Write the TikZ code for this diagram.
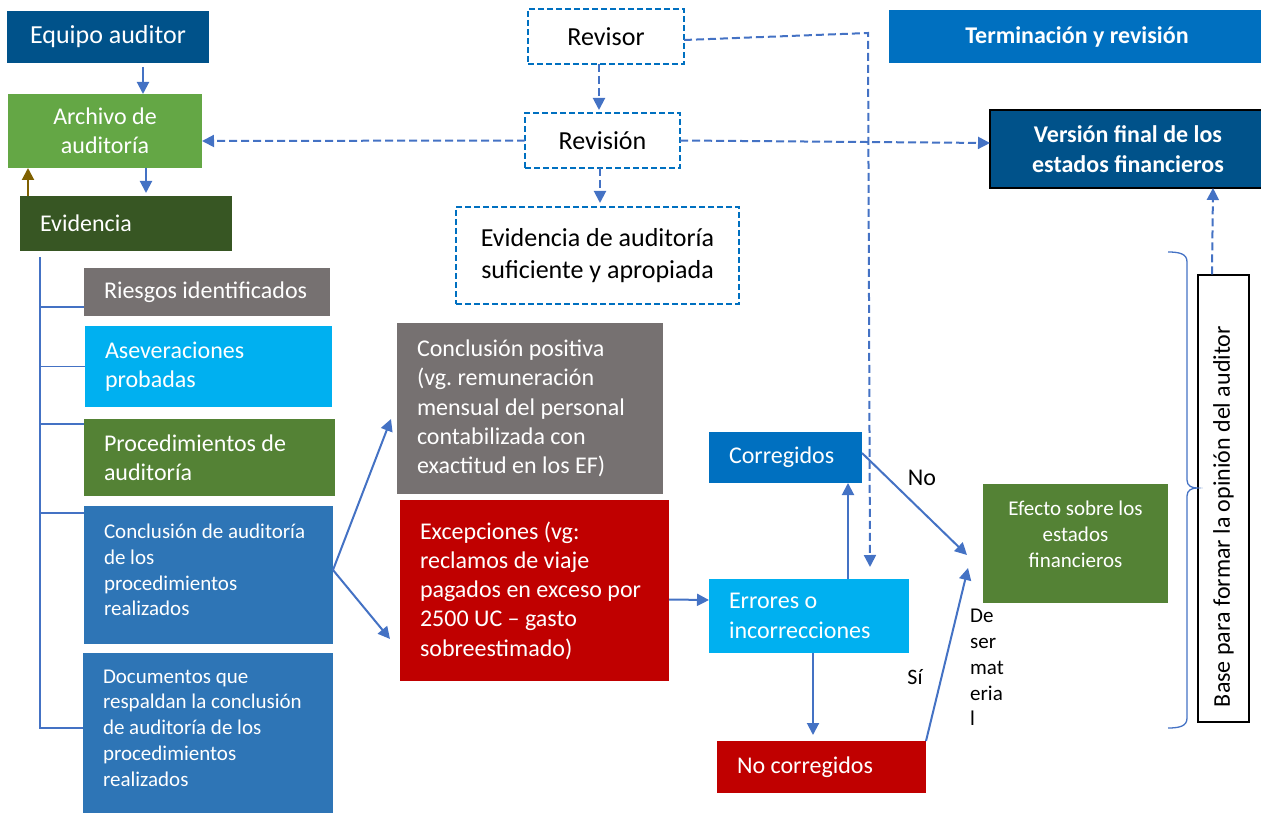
\documentclass[tikz,border=0pt]{standalone}
\usepackage{fontspec}
\setmainfont{Carlito}
\usetikzlibrary{arrows.meta}
\frenchspacing

\definecolor{navy}{RGB}{0,82,138}
\definecolor{leaf}{RGB}{100,167,69}
\definecolor{forest}{RGB}{55,86,35}
\definecolor{moss}{RGB}{84,130,53}
\definecolor{slate}{RGB}{118,113,113}
\definecolor{sky}{RGB}{0,176,240}
\definecolor{steel}{RGB}{46,117,182}
\definecolor{azure}{RGB}{0,112,192}
\definecolor{crimson}{RGB}{192,0,0}
\definecolor{link}{RGB}{68,114,196}
\definecolor{umber}{RGB}{127,96,0}

\begin{document}
\begin{tikzpicture}[x=1pt,y=-1pt,
  txtxl/.style={font=\fontsize{26}{31.7}\selectfont},
  txtl/.style={font=\fontsize{24}{29.3}\selectfont},
  txtm/.style={font=\fontsize{22}{27.5}\selectfont},
  txts/.style={font=\fontsize{21}{25.8}\selectfont},
  txtb/.style={font=\fontsize{24}{29.5}\selectfont\bfseries},
  blk/.style={anchor=north west, inner ysep=0pt, outer sep=0pt, text=white},
  lbox/.style={blk, inner xsep=20pt, align=flush left},
  cbox/.style={blk, inner xsep=0pt, align=center},
  dbox/.style={cbox, text=black, fill=white, draw=azure, line width=2.2pt,
               dash pattern=on 6pt off 3pt},
  conn/.style={draw=link, line width=2pt, -{Triangle[length=12pt,width=12pt]}},
  dconn/.style={conn, dash pattern=on 8pt off 4pt},
  tree/.style={draw=link, line width=1.3pt},
]
\useasboundingbox (0,0) rectangle (1261,813);
\clip (0,0) rectangle (1261,813);

% left column
\node[cbox, txtxl, fill=navy, minimum width=202pt, minimum height=52pt] (equipo) at (7,11) {Equipo auditor};
\node[cbox, txtl, fill=leaf, minimum width=194pt, minimum height=74pt] (archivo) at (8,94) {Archivo de\\auditoría};
\node[lbox, txtl, fill=forest, text width=172pt, minimum height=55pt] (evidencia) at (20,196) {Evidencia};

\node[lbox, txtl, fill=slate, text width=206pt, minimum height=48pt] (riesgos) at (84,268) {Riesgos identificados};
\node[lbox, txtl, fill=sky, text width=207pt, minimum height=81pt] (aseveraciones) at (85,326) {Aseveraciones\\probadas};
\node[lbox, txtl, fill=moss, text width=211pt, minimum height=77pt] (procedimientos) at (84,419) {Procedimientos de\\auditoría};
\node[lbox, txts, fill=steel, text width=209pt, minimum height=128pt] (conclusion) at (84,506) {Conclusión de auditoría\\de los\\procedimientos\\realizados};
\fill[steel] (84,620) rectangle (333,644);
\fill[steel] (83,780) rectangle (333,815);
\node[lbox, txts, fill=steel, text width=210pt, minimum height=150pt] (documentos) at (83,653) {Documentos que\\respaldan la conclusión\\de auditoría de los\\procedimientos\\realizados};

% review column
\node[dbox, txtxl, minimum width=156pt, minimum height=55pt] (revisor) at (528,9) {Revisor};
\node[dbox, txtxl, minimum width=155pt, minimum height=55pt] (revision) at (525,113) {Revisión};
\node[dbox, txtxl, minimum width=283pt, minimum height=97pt] (evidsuf) at (456,207) {Evidencia de auditoría\\suficiente y apropiada};

% results
\node[lbox, txtl, fill=slate, text width=226pt, minimum height=171pt] (concpos) at (397,323) {Conclusión positiva\\(vg. remuneración\\mensual del personal\\contabilizada con\\exactitud en los EF)};
\node[lbox, txtl, fill=crimson, text width=229pt, minimum height=181pt] (excepciones) at (400,500) {Excepciones (vg:\\reclamos de viaje\\pagados en exceso por\\2500 UC – gasto\\sobreestimado)};
\node[lbox, txtl, fill=azure, text width=113pt, minimum height=51pt] (corregidos) at (709,432) {Corregidos};
\node[lbox, txtl, fill=sky, text width=160pt, minimum height=74pt] (errores) at (709,579) {Errores o\\incorrecciones};
\node[lbox, txtl, fill=crimson, text width=169pt, minimum height=52pt] (nocorr) at (717,741) {No corregidos};
\node[blk, inner sep=0pt, fill=moss, txts] (efecto) at (983,484)
  {\parbox[c][119pt][t]{185pt}{\centering\vspace*{17pt}Efecto sobre los\\estados\\financieros}};

% completion column
\node[cbox, txtb, fill=azure, minimum width=376pt, minimum height=53pt] (terminacion) at (889,10) {Terminación y revisión};
\node[cbox, txtb, fill=navy, draw=black, line width=1.5pt, minimum width=276pt, minimum height=78pt] (version) at (990,110) {Versión final de los\\estados financieros};
\node[draw=black, line width=1.3pt, fill=white, txtl, rotate=90, minimum width=447pt, minimum height=51pt,
      inner xsep=15pt, inner ysep=0pt, text width=417pt, align=flush left] (base) at (1223.5,498.5) {Base para formar la opinión del auditor};

% labels
\node[txtl, inner sep=0pt] (lblno) at (922,478) {No};
\node[txtm, inner sep=0pt] (lblsi) at (915,677) {Sí};
\node[txts, inner sep=0pt, anchor=north west, align=flush left] (lblmat) at (970,609) {De\\ser\\mat\\eria\\l};

% hierarchy lines
\coordinate (trunk) at (40,257);
\draw[tree] (trunk) |- ([yshift=-15pt]riesgos.west);
\draw[tree] (trunk) |- (aseveraciones.west);
\draw[tree] (trunk) |- ([yshift=33.5pt]procedimientos.west);
\draw[tree] (trunk) |- ([yshift=57pt]conclusion.west);
\draw[tree] (trunk) |- (documentos.west);

% solid connectors
\draw[conn] ([xshift=35pt,yshift=-4pt]equipo.south) -- ([xshift=38pt]archivo.north);
\draw[conn] ([xshift=41pt]archivo.south) -- ([xshift=20pt,yshift=3pt]evidencia.north);
\draw[conn, draw=umber] ([xshift=8pt]evidencia.north west) -- ([xshift=20pt]archivo.south west);
\draw[conn] (conclusion.east) -- ([xshift=-6pt,yshift=-10.5pt]concpos.west);
\draw[conn] (conclusion.east) -- ([xshift=-10pt,yshift=-48.5pt]excepciones.west);
\draw[conn] ([yshift=-9pt]excepciones.east) -- ([yshift=16pt]errores.west);
\draw[conn] ([xshift=39pt]errores.north) -- ([xshift=62.5pt]corregidos.south);
\draw[conn] ([xshift=4pt]errores.south) -- ([xshift=-8.5pt,yshift=6pt]nocorr.north);
\draw[conn] ([yshift=4.5pt]corregidos.east) -- ([xshift=-16pt,yshift=-11.5pt]efecto.west);
\draw[conn] (nocorr.north east) -- ([xshift=-15pt,yshift=-24.5pt]efecto.west);

% dashed connectors
\coordinate (bend) at (868,33);
\coordinate (drop) at (870,567);
\draw[dconn] ([xshift=-7pt]revisor.south) -- ([xshift=-3.5pt,yshift=3pt]revision.north);
\draw[dconn] ([xshift=-2.5pt]revision.south) -- ([xshift=2.5pt,yshift=4pt]evidsuf.north);
\draw[dconn] (revision.west) -- ([yshift=-10pt]archivo.east);
\draw[dconn] (revision.east) -- ([yshift=6pt]version.west);
\draw[dconn] ([yshift=-3.5pt]revisor.east) -- (bend) -- (drop);
\draw[dconn] ([xshift=-11.5pt]base.east) -- ([xshift=85pt]version.south);

% brace
\draw[link, line width=1.3pt] (1168,252) .. controls (1180,252) and (1187,254) .. (1187,262)
  -- (1187,480) .. controls (1187,486) and (1192,488) .. (1197,488)
  .. controls (1192,488) and (1187,490) .. (1187,496)
  -- (1187,718) .. controls (1187,726) and (1180,728) .. (1168,728);
\end{tikzpicture}
\end{document}
